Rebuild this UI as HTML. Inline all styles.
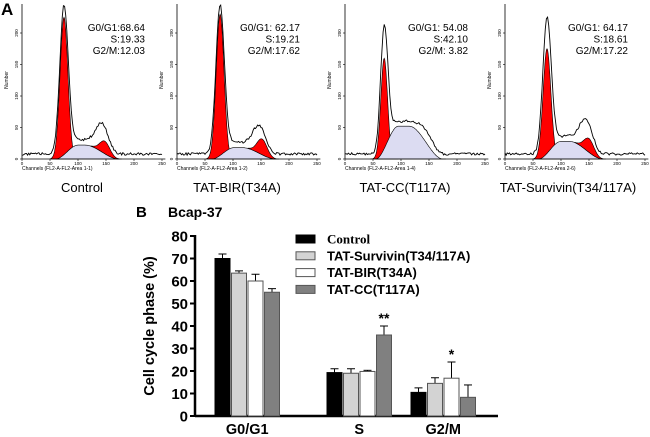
<!DOCTYPE html>
<html><head><meta charset="utf-8"><style>
html,body{margin:0;padding:0;background:#fff;}
svg{display:block;font-family:"Liberation Sans",sans-serif;}
</style></head><body>
<svg id="fig" width="650" height="437" viewBox="0 0 650 437" xmlns="http://www.w3.org/2000/svg">
<text x="1" y="15" font-size="17" font-weight="bold">A</text>
<g id="hist"></g>
<text x="136" y="217" font-size="15" font-weight="bold">B</text>
<text x="168" y="217" font-size="14" font-weight="bold">Bcap-37</text>
<g id="chart"></g>
</svg>
<script>
// ---- bar chart data ----
const categories = ["G0/G1", "S", "G2/M"];
const seriesNames = ["Control", "TAT-Survivin(T34/117A)", "TAT-BIR(T34A)", "TAT-CC(T117A)"];
const controlValues = [70, 19.3, 10.5];
const survivinValues = [63.5, 19, 14.5];
const birValues = [60, 19.8, 16.8];
const ccValues = [55, 36, 8.3];
const controlErr = [2, 1.7, 2];
const survivinErr = [1, 2, 2.5];
const birErr = [3, 0.5, 7.2];
const ccErr = [1.6, 4, 5.5];
const yTicks = [0, 10, 20, 30, 40, 50, 60, 70, 80];
const stars = [["", "", "", ""], ["", "", "", "**"], ["", "", "*", ""]];

const NS = "http://www.w3.org/2000/svg";
function mk(tag, attrs, parent) {
  const e = document.createElementNS(NS, tag);
  for (const k in attrs) e.setAttribute(k, attrs[k]);
  parent.appendChild(e);
  return e;
}
const chart = document.getElementById("chart");
const y0 = 416, yTop = 236, yMax = 80;
const yScale = v => y0 - (v / yMax) * (y0 - yTop);
const groupStart = [215, 327, 411];
const barW = 15, barStep = 16.5;
const xBar = (g, s) => groupStart[g] + s * barStep;
const fills = ["#000000", "#d3d3d3", "#ffffff", "#808080"];
const allVals = [controlValues, survivinValues, birValues, ccValues];
const allErr = [controlErr, survivinErr, birErr, ccErr];

let ax = mk("line", {x1:195, y1:y0, x2:498, y2:y0, stroke:"#000","stroke-width":2.5}, chart);


ax = mk("line", {x1:195, y1:yTop-1, x2:195, y2:y0+1, stroke:"#000","stroke-width":2.5}, chart);


yTicks.forEach(t => {
  const y = yScale(t);
  const tk = mk("line", {x1:190, y1:y, x2:195, y2:y, stroke:"#000","stroke-width":2}, chart);
  
  
  const tl = mk("text", {x:188, y:y+5.5, "font-size":15, "font-weight":"bold", "text-anchor":"end"}, chart);
  tl.textContent = t;
  
  
});
const yt = mk("text", {x:0, y:0, "font-size":14.5, "font-weight":"bold", "text-anchor":"middle", transform:"translate(154,326) rotate(-90)"}, chart);
yt.textContent = "Cell cycle phase (%)";



categories.forEach((c, g) => {
  const cx = xBar(g, 0) + (3 * barStep + barW) / 2;
  const cl = mk("text", {x:cx, y:434, "font-size":14.5, "font-weight":"bold", "text-anchor":"middle"}, chart);
  cl.textContent = c;
  
  
  allVals.forEach((vals, s) => {
    const x = xBar(g, s), y = yScale(vals[g]);
    const ey = yScale(vals[g] + allErr[s][g]);
    const el = mk("line", {x1:x+barW/2, y1:y, x2:x+barW/2, y2:ey, stroke:"#000","stroke-width":1}, chart);
    
    
    const ec = mk("line", {x1:x+barW/2-4, y1:ey, x2:x+barW/2+4, y2:ey, stroke:"#000","stroke-width":1}, chart);
    
    
    const r = mk("rect", {x:x, y:y, width:barW, height:y0-y, fill:fills[s], stroke:s===0?"#000":"#555","stroke-width":1}, chart);
    
    
    if (stars[g][s]) {
      const st = mk("text", {x:x+barW/2, y:ey-3, "font-size":14, "font-weight":"bold", "text-anchor":"middle"}, chart);
      st.textContent = stars[g][s];
      
      
    }
  });
});
seriesNames.forEach((n, s) => {
  const y = 235 + s * 16.8;
  const b = mk("rect", {x:296, y:y, width:19, height:8, fill:fills[s], stroke:s===0?"#000":"#555","stroke-width":1}, chart);
  
  
  const t = mk("text", {x:327, y:y+8.5, "font-size":13, "font-weight":"bold", "font-family":s===0?"Liberation Serif, serif":"Liberation Sans, sans-serif"}, chart);
  t.textContent = n;
  
  
});

// ---- histogram panels (illustrative) ----
const hist = document.getElementById("hist");
const panels = [
  {x:22, title:"Control", stats:["G0/G1:68.64","S:19.33","G2/M:12.03"], id:"1-1", g1:225, g1c:75, g1s:7, sH:22, g2:20, g2c:148, extra:18, outG1:230},
  {x:177, title:"TAT-BIR(T34A)", stats:["G0/G1: 62.17","S:19.21","G2/M:17.62"], id:"1-2", g1:230, g1c:77, g1s:7, sH:18, g2:25, g2c:152, extra:12, outG1:232},
  {x:345, title:"TAT-CC(T117A)", stats:["G0/G1: 54.08","S:42.10","G2/M: 3.82"], id:"1-4", g1:160, g1c:70, g1s:6, sH:52, g2:0, g2c:150, extra:12, outG1:190},
  {x:505, title:"TAT-Survivin(T34/117A)", stats:["G0/G1: 64.17","S:18.61","G2/M:17.22"], id:"2-6", g1:175, g1c:75, g1s:7, sH:28, g2:22, g2c:150, extra:20, outG1:210}
];
const base = 159;
panels.forEach((p, pi) => {
  const g = mk("g", {}, hist);
  
  
  const X = c => p.x + c * 0.56;
  const Y = n => base - n * 0.63;
  const gauss = (c, h, m, s) => h * Math.exp(-((c-m)*(c-m))/(2*s*s));
  const smooth = t => t<=0?0:t>=1?1:t*t*(3-2*t);
  const sF = c => p.sH * smooth((c - (p.g1c-15)) / 40) * (1 - smooth((c - (p.g2c-35)) / 60));
  let d = "M" + X(p.g1c-25) + "," + base;
  for (let c = p.g1c-25; c <= p.g1c+25; c++) d += " L" + X(c).toFixed(1) + "," + Y(gauss(c, p.g1, p.g1c, p.g1s)).toFixed(1);
  d += " Z";
  mk("path", {d:d, fill:"#ff0000", stroke:"#000","stroke-width":0.6}, g);
  d = "M" + X(p.g1c-15) + "," + base;
  for (let c = p.g1c-15; c <= p.g2c+30; c++) d += " L" + X(c).toFixed(1) + "," + Y(sF(c)).toFixed(1);
  d += " L" + X(p.g2c+30) + "," + base + " Z";
  mk("path", {d:d, fill:"#dcdcf2", stroke:"#000","stroke-width":0.6}, g);
  if (p.g2 > 0) {
    d = "M" + X(p.g2c-25) + "," + Y(sF(p.g2c-25)).toFixed(1);
    for (let c = p.g2c-25; c <= p.g2c+25; c++) d += " L" + X(c).toFixed(1) + "," + Y(sF(c) + gauss(c, p.g2, p.g2c, 9)).toFixed(1);
    for (let c = p.g2c+25; c >= p.g2c-25; c--) d += " L" + X(c).toFixed(1) + "," + Y(sF(c)).toFixed(1);
    d += " Z";
    mk("path", {d:d, fill:"#ff0000", stroke:"#000","stroke-width":0.6}, g);
  }
  d = "";
  for (let c = 0; c <= 250; c += 2) {
    const noise = ((Math.sin(c * 12.9898 + pi * 7) * 43758.5453) % 1) * 4;
    let n = gauss(c, p.outG1, p.g1c, p.g1s+0.5) + sF(c) + gauss(c, p.g2+p.extra, p.g2c-5, 11) + 6 + Math.abs(noise);
    d += (c===0?"M":" L") + X(c).toFixed(1) + "," + Y(n).toFixed(1);
  }
  mk("path", {d:d, fill:"none", stroke:"#000","stroke-width":0.9}, g);
  mk("line", {x1:p.x, y1:base, x2:X(256), y2:base, stroke:"#000","stroke-width":0.8}, g);
  mk("line", {x1:p.x, y1:base, x2:p.x, y2:4, stroke:"#000","stroke-width":0.8}, g);
  [0,50,100,150,200,250].forEach(c => {
    mk("line", {x1:X(c), y1:base, x2:X(c), y2:base+2, stroke:"#000","stroke-width":0.6}, g);
    const t = mk("text", {x:X(c), y:base+6, "font-size":4.5, "text-anchor":"middle"}, g);
    t.textContent = c;
  });
  [0,50,100,150,200].forEach(n => {
    mk("line", {x1:p.x-2, y1:Y(n), x2:p.x, y2:Y(n), stroke:"#000","stroke-width":0.6}, g);
    const t = mk("text", {x:0, y:0, "font-size":4.5, "text-anchor":"middle", transform:"translate("+(p.x-4)+","+Y(n)+") rotate(-90)"}, g);
    t.textContent = n;
  });
  const nt = mk("text", {x:0, y:0, "font-size":5, "text-anchor":"middle", transform:"translate("+(p.x-14)+",80) rotate(-90)"}, g);
  nt.textContent = "Number";
  const ch = mk("text", {x:p.x, y:base+11, "font-size":5}, g);
  ch.textContent = "Channels (FL2-A-FL2-Area  " + p.id + ")";
  p.stats.forEach((s, i) => {
    const st = mk("text", {x:p.x+123, y:31 + i*11.5, "font-size":10, "text-anchor":"end"}, g);
    st.textContent = s;
    
    
  });
  const tt = mk("text", {x:p.x + 60 + (pi===3?3:0), y:192, "font-size":13, "text-anchor":"middle"}, g);
  tt.textContent = p.title;
  
  
});
</script>
</body></html>
